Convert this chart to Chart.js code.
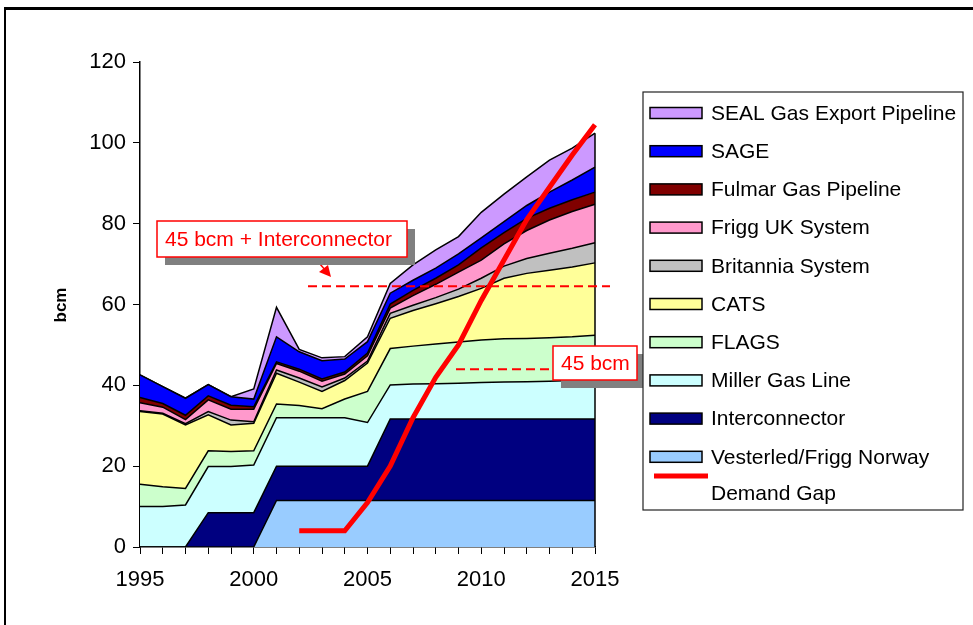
<!DOCTYPE html>
<html>
<head>
<meta charset="utf-8">
<script src="https://cdn.jsdelivr.net/npm/chart.js@4.4.0/dist/chart.umd.min.js"></script>
<style>
html,body{margin:0;padding:0;background:#fff;overflow:hidden;}
#frame{position:absolute;left:4px;top:7px;width:1200px;height:800px;border-top:3px solid #000;border-left:2px solid #000;}
#c{position:absolute;left:0;top:0;}
</style>
</head>
<body>
<div id="frame"></div>
<canvas id="c" width="973" height="625"></canvas>
<script>
// years on the x axis
let years=[1995,1996,1997,1998,1999,2000,2001,2002,2003,2004,2005,2006,2007,2008,2009,2010,2011,2012,2013,2014,2015];
let yTicks=[0,20,40,60,80,100,120];

// supply by pipeline (bcm), bottom of the stack first
let vesterled=[0,0,0,0,0,0,11.5,11.5,11.5,11.5,11.5,11.5,11.5,11.5,11.5,11.5,11.5,11.5,11.5,11.5,11.5];
let interconnector=[0,0,0,8.5,8.5,8.5,8.5,8.5,8.5,8.5,8.5,20.2,20.2,20.2,20.2,20.2,20.2,20.2,20.2,20.2,20.2];
let miller=[10.0,10.0,10.4,11.4,11.4,11.8,12.0,12.0,12.0,12.0,10.8,8.4,8.6,8.7,8.8,9.0,9.1,9.2,9.3,9.5,9.7];
let flags=[5.5,4.9,4.1,3.9,3.7,3.5,3.4,3.0,2.2,4.6,7.7,9.0,9.4,9.8,10.2,10.5,10.7,10.7,10.8,10.8,11.0];
let cats=[18.0,18.0,15.7,8.9,6.6,6.8,7.6,5.8,4.3,4.6,7.0,7.5,8.8,10.0,11.3,12.8,15.0,16.1,16.7,17.3,17.9];
let britannia=[0.2,0.2,0.3,0.8,1.2,0.4,0.8,1.0,1.1,0.6,0.5,1.2,1.3,1.5,1.8,2.5,3.0,3.7,4.2,4.6,5.0];
let friggUK=[2.0,1.5,1.0,2.9,2.7,3.1,1.6,1.7,1.4,1.0,1.3,1.3,2.4,3.3,4.2,4.5,5.5,6.9,8.2,9.1,9.5];
let fulmar=[1.3,0.9,1.1,1.0,1.0,0.6,0.4,0.5,0.6,0.5,0.7,1.0,1.3,1.5,1.8,3.0,2.8,3.0,2.9,2.9,3.0];
let sage=[5.6,4.2,4.2,2.8,2.1,1.9,6.2,4.3,4.5,3.2,2.8,2.7,2.5,2.5,2.7,2.5,2.7,3.2,4.0,4.9,6.2];
let seal=[0,0,0,0,0,2.5,7.3,0.6,0.7,0.6,1.2,2.4,3.8,4.5,4.3,6.3,6.8,7.1,7.9,7.9,8.4];

let demandGap=[null,null,null,null,null,null,null,4,4,4,11,20,32,42,50,61,71,81,89,97,104.5];

// reference levels
let capWithInterconnector=64.5;
let capBase=44;

const FONT="'Liberation Sans', Arial, sans-serif";

function area(label,data,color,first){
	return {
		label:label, data:data, backgroundColor:color, borderColor:'#000', borderWidth:1.5,
		fill:first?'origin':'-1', pointRadius:0, tension:0, stack:'supply'
	};
}

let datasets=[
	area('Vesterled/Frigg Norway',vesterled,'#99CCFF',true),
	area('Interconnector',interconnector,'#000080'),
	area('Miller Gas Line',miller,'#CCFFFF'),
	area('FLAGS',flags,'#CCFFCC'),
	area('CATS',cats,'#FFFF99'),
	area('Britannia System',britannia,'#C0C0C0'),
	area('Frigg UK System',friggUK,'#FF99CC'),
	area('Fulmar Gas Pipeline',fulmar,'#800000'),
	area('SAGE',sage,'#0000FF'),
	area('SEAL Gas Export Pipeline',seal,'#CC99FF'),
	{label:'Demand Gap',data:demandGap,borderColor:'#FF0000',backgroundColor:'#FF0000',borderWidth:5,
	 fill:false,pointRadius:0,tension:0,stack:'gap',order:-1}
];

function boxWithShadow(ctx,x,y,w,h,text){
	ctx.fillStyle='#808080';
	ctx.fillRect(x+8,y+8,w,h);
	ctx.fillStyle='#fff';
	ctx.fillRect(x,y,w,h);
	ctx.strokeStyle='#FF0000';
	ctx.lineWidth=1.5;
	ctx.strokeRect(x,y,w,h);
	ctx.fillStyle='#FF0000';
	ctx.font='21px '+FONT;
	ctx.textAlign='left';
	ctx.textBaseline='middle';
	ctx.fillText(text,x+8,y+h/2+1);
}

const extras={
	id:'extras',
	afterDraw(chart){
		const ctx=chart.ctx, xs=chart.scales.x, ys=chart.scales.y;
		ctx.save();

		// right edge of the stacked block
		let last=years.length-1, tot=0;
		for(let i=0;i<10;i++) tot+=datasets[i].data[last];
		ctx.strokeStyle='#000'; ctx.lineWidth=1.5;
		ctx.beginPath();
		ctx.moveTo(xs.getPixelForValue(last),ys.getPixelForValue(0));
		ctx.lineTo(xs.getPixelForValue(last),ys.getPixelForValue(tot));
		ctx.stroke();

		// y title
		ctx.save();
		ctx.translate(61,305);
		ctx.rotate(-Math.PI/2);
		ctx.fillStyle='#000';
		ctx.font='bold 17px '+FONT;
		ctx.textAlign='center'; ctx.textBaseline='middle';
		ctx.fillText('bcm',0,0);
		ctx.restore();

		// dashed capacity lines
		ctx.strokeStyle='#FF0000'; ctx.lineWidth=2; ctx.setLineDash([9,5]);
		let yu=ys.getPixelForValue(capWithInterconnector);
		ctx.beginPath(); ctx.moveTo(308,yu); ctx.lineTo(610,yu); ctx.stroke();
		let yl=ys.getPixelForValue(capBase);
		ctx.beginPath(); ctx.moveTo(456,yl); ctx.lineTo(553,yl); ctx.stroke();
		ctx.setLineDash([]);

		// arrow from upper label to line
		ctx.lineWidth=1.5;
		ctx.beginPath(); ctx.moveTo(314,257); ctx.lineTo(326,271); ctx.stroke();
		ctx.fillStyle='#FF0000';
		ctx.beginPath(); ctx.moveTo(331,277); ctx.lineTo(319,272); ctx.lineTo(328,265); ctx.closePath(); ctx.fill();

		boxWithShadow(ctx,157,221,250,36,'45 bcm + Interconnector');
		boxWithShadow(ctx,553,346,84,34,'45 bcm');

		// legend
		ctx.fillStyle='#fff';
		ctx.fillRect(643,92,320,418);
		ctx.strokeStyle='#222'; ctx.lineWidth=1.2;
		ctx.strokeRect(643,92,320,418);
		ctx.font='21px '+FONT; ctx.textAlign='left'; ctx.textBaseline='middle';
		for(let k=0;k<10;k++){
			let d=datasets[9-k], cy=113+k*38.2;
			ctx.fillStyle=d.backgroundColor;
			ctx.fillRect(650,cy-5.5,52,11);
			ctx.strokeStyle='#000'; ctx.lineWidth=1.5;
			ctx.strokeRect(650,cy-5.5,52,11);
			ctx.fillStyle='#000';
			ctx.fillText(d.label,711,cy+1);
		}
		ctx.strokeStyle='#FF0000'; ctx.lineWidth=5;
		ctx.beginPath(); ctx.moveTo(654,476); ctx.lineTo(708,476); ctx.stroke();
		ctx.fillStyle='#000';
		ctx.fillText('Demand Gap',711,494);

		ctx.restore();
	}
};

new Chart(document.getElementById('c'),{
	type:'line',
	data:{labels:years,datasets:datasets},
	options:{
		responsive:false, animation:false,
		layout:{padding:{left:0,top:62,right:378,bottom:0}},
		plugins:{legend:{display:false},tooltip:{enabled:false}},
		scales:{
			x:{
				type:'category', offset:false,
				grid:{display:true,drawOnChartArea:false,drawTicks:true,tickLength:7,color:'#000',lineWidth:1},
				border:{display:true,color:'#000',width:1.5},
				ticks:{autoSkip:false,maxRotation:0,color:'#000',padding:13,font:{family:FONT,size:22},
					callback:(v,i)=>years[i]%5===0?String(years[i]):''},
				afterFit:s=>{s.height=78;}
			},
			y:{
				stacked:true, min:yTicks[0], max:yTicks[yTicks.length-1],
				afterBuildTicks:s=>{s.ticks=yTicks.map(v=>({value:v}));},
				grid:{display:true,drawOnChartArea:false,drawTicks:true,tickLength:7,color:'#000',lineWidth:1},
				border:{display:true,color:'#000',width:1.5},
				ticks:{color:'#000',padding:7,font:{family:FONT,size:22}},
				afterFit:s=>{s.width=140;}
			}
		}
	},
	plugins:[extras]
});
</script>
</body>
</html>
